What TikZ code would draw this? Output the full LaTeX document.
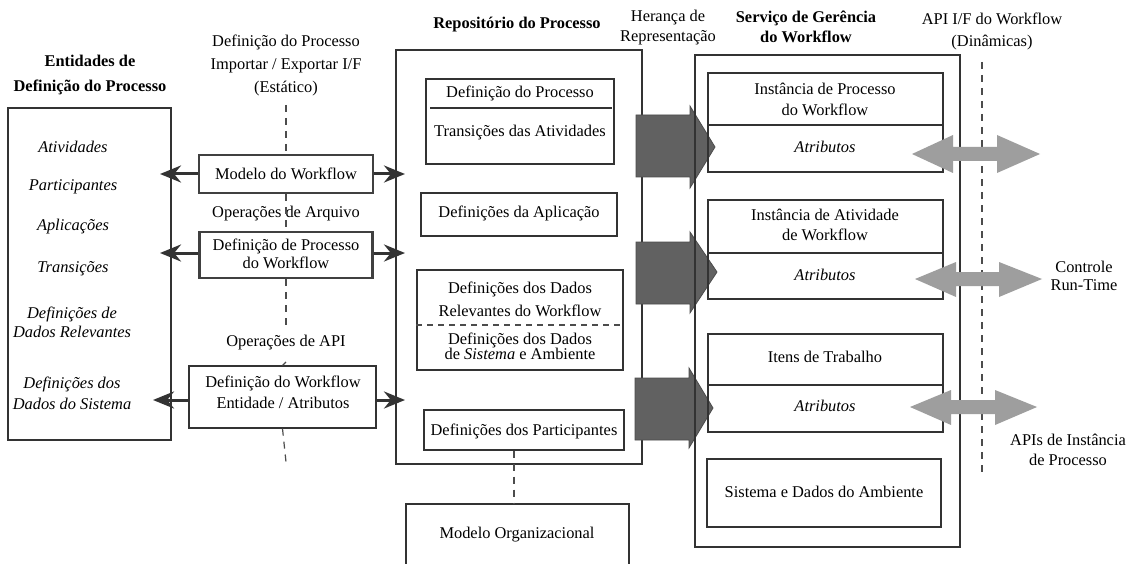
\documentclass[tikz,border=0pt]{standalone}
\usepackage{fontspec}
\setmainfont{Liberation Serif}
\usetikzlibrary{arrows.meta}
\newcommand\lsp[1]{\fontsize{16.4}{#1}\selectfont}
\tikzset{
  frame/.style={draw=black!80, line width=1.3pt},
  tbox/.style={draw=black!75, line width=2.2pt},
  txt/.style={inner sep=0pt, align=center, font=\lsp{20}},
  itx/.style={inner sep=0pt, align=center, font=\lsp{20}\itshape},
  btx/.style={inner sep=0pt, align=center, font=\lsp{20}\bfseries},
  dsh/.style={draw=black!70, line width=1.2pt, dash pattern=on 7pt off 6pt},
  blk/.style={draw=black!80, line width=3pt, -{Stealth[length=21pt,width=17pt]}},
  bigarr/.style={fill=black!62, draw=black!70, line width=0.8pt},
  lgarr/.style={fill=black!38, draw=none}
}
\begin{document}
\begin{tikzpicture}[x=1pt,y=-1pt]
\useasboundingbox (0,0) rectangle (1131,564);
\fill[white] (0,0) rectangle (1131,564);

% ---------- left: entities ----------
\node[btx, font=\lsp{25}\bfseries] (enttitle) at (90,75) {Entidades de\\Definição do Processo};
\draw[frame] (8,108) rectangle (171,440);
\node[itx] (i1) at (73,147) {Atividades};
\node[itx] (i2) at (73,187) {Participantes};
\node[itx] (i3) at (73,227) {Aplicações};
\node[itx] (i4) at (73,269) {Transições};
\node[itx, font=\lsp{19}\itshape] (i5) at (72,322) {Definições de\\Dados Relevantes};
\node[itx, font=\lsp{21}\itshape] (i6) at (72,393) {Definições dos\\Dados do Sistema};

% ---------- middle interface column ----------
\node[txt, font=\lsp{23}] (ifl) at (286,65) {Definição do Processo\\Importar / Exportar I/F\\(Estático)};
\node[tbox, minimum width=174, minimum height=38] (mw) at (286,174) {};
\node[txt] (mwt) at (286,174) {Modelo do Workflow};
\node[txt] (oparq) at (286,214) {Operações de Arquivo};
\node[tbox, minimum width=173, minimum height=46] (dp) at (286,255) {};
\node[txt, font=\lsp{18}] (dpt) at (286,254) {Definição de Processo\\do Workflow};
\node[txt] (opapi) at (286,343) {Operações de API};
\node[frame, minimum width=187, minimum height=62] (dw) at (282.5,397) {};
\node[txt, font=\lsp{21}] (dwt) at (283,392.5) {Definição do Workflow\\Entidade / Atributos};

\coordinate (d0) at (286,105);
\coordinate (d1) at (286,327);
\coordinate (d2) at (286,362);
\coordinate (d3) at (286,462);
\draw[dsh] (d0) -- (mw.north);
\draw[dsh] (mw.south) -- (dp.north);
\draw[dsh] (dp.south) -- (d1);
\draw[dsh] (d2) -- (dw.north);
\draw[dsh] (dw.south) -- (d3);

\coordinate (a1l) at (160,174); \coordinate (a1r) at (405,174);
\coordinate (a2l) at (160,253); \coordinate (a2r) at (405,253);
\coordinate (a3l) at (153,400); \coordinate (a3r) at (405,400);
\draw[blk] (mw.west) -- (a1l);
\draw[blk] (mw.east) -- (a1r);
\draw[blk] (dp.west |- a2l) -- (a2l);
\draw[blk] (dp.east |- a2r) -- (a2r);
\draw[blk] (dw.west |- a3l) -- (a3l);
\draw[blk] (dw.east |- a3r) -- (a3r);

% ---------- repository ----------
\node[btx] (reptitle) at (517,25) {Repositório do Processo};
\draw[frame] (396,50) rectangle (642,464);
\node[frame, minimum width=188, minimum height=85] (pd) at (520,121.5) {};
\draw[black!80, line width=1.3pt] (430,108) -- (612,108);
\node[txt] (pdt1) at (520,93) {Definição do Processo};
\node[txt] (pdt2) at (520,133) {Transições das Atividades};
\node[frame, minimum width=196, minimum height=43] (ad) at (519,214.5) {};
\node[txt] (adt) at (519,213) {Definições da Aplicação};
\node[frame, minimum width=206, minimum height=100] (dd) at (520,320) {};
\node[txt, font=\lsp{23}] (ddt1) at (520,299.5) {Definições dos Dados\\Relevantes do Workflow};
\draw[dsh, dash pattern=on 6pt off 5pt] (dd.west |- 0,325) -- (dd.east |- 0,325);
\node[txt, font=\lsp{15}] (ddt2) at (520,346.5) {Definições dos Dados\\de \textit{Sistema} e Ambiente};
\node[frame, minimum width=200, minimum height=40] (pp) at (524,430) {};
\node[txt] (ppt) at (524,431) {Definições dos Participantes};
\draw[frame] (406,568) -- (406,504) -- (629,504) -- (629,568);
\coordinate (mo) at (514,504);
\node[txt] (mot) at (517,535) {Modelo Organizacional};
\draw[dsh] (pp.south -| mo) -- (mo);

% ---------- inheritance label ----------
\node[txt] (her) at (668,28) {Herança de\\Representação};

% ---------- big dark arrows ----------
\filldraw[bigarr] (636,115) -- (690,115) -- (690,106) -- (715,147) -- (690,188) -- (690,177) -- (636,177) -- cycle;
\filldraw[bigarr] (636,242) -- (690,242) -- (690,232) -- (717,272) -- (690,313) -- (690,304) -- (636,304) -- cycle;
\filldraw[bigarr] (635,378) -- (689,378) -- (689,368) -- (713,408) -- (689,448) -- (689,440) -- (635,440) -- cycle;

% ---------- workflow service ----------
\node[btx] (svtitle) at (806,27) {Serviço de Gerência\\do Workflow};
\draw[frame] (695,55) rectangle (960,547);
\node[frame, minimum width=235, minimum height=99] (pi) at (825.5,122.5) {};
\draw[black!80, line width=1.3pt] (pi.west |- 0,125) -- (pi.east |- 0,125);
\node[txt, font=\lsp{21}] (pit) at (825,99.5) {Instância de Processo\\do Workflow};
\node[itx] (pia) at (825,147) {Atributos};
\node[frame, minimum width=235, minimum height=99] (ai) at (825.5,249.5) {};
\draw[black!80, line width=1.3pt] (ai.west |- 0,253) -- (ai.east |- 0,253);
\node[txt] (ait) at (825,225) {Instância de Atividade\\de Workflow};
\node[itx] (aia) at (825,275) {Atributos};
\node[frame, minimum width=235, minimum height=98] (it) at (825.5,383) {};
\draw[black!80, line width=1.3pt] (it.west |- 0,385) -- (it.east |- 0,385);
\node[txt] (itt) at (825,357) {Itens de Trabalho};
\node[itx] (ita) at (825,406) {Atributos};
\node[frame, minimum width=234, minimum height=68] (sd) at (824,493) {};
\node[txt] (sdt) at (824,492) {Sistema e Dados do Ambiente};

% ---------- dynamic API ----------
\node[txt, font=\lsp{22}] (apil) at (992,31) {API I/F do Workflow\\(Dinâmicas)};
\coordinate (v0) at (982,62);
\coordinate (v1) at (982,477);
\draw[dsh] (v0) -- (v1);

\fill[lgarr] (912,154) -- (953,135) -- (953,147) -- (997,147) -- (997,135) -- (1040,154) -- (997,173) -- (997,161) -- (953,161) -- (953,173) -- cycle;
\fill[lgarr] (915,279) -- (956,262) -- (956,272) -- (999,272) -- (999,262) -- (1042,279) -- (999,297) -- (999,286) -- (956,286) -- (956,297) -- cycle;
\fill[lgarr] (910,407) -- (951,390) -- (951,400) -- (995,400) -- (995,390) -- (1037,407) -- (995,425) -- (995,414) -- (951,414) -- (951,425) -- cycle;

\node[txt, font=\lsp{18}] (ctl) at (1084,276) {Controle\\Run-Time};
\node[txt] (apis) at (1068,450) {APIs de Instância\\de Processo};
\end{tikzpicture}
\end{document}
